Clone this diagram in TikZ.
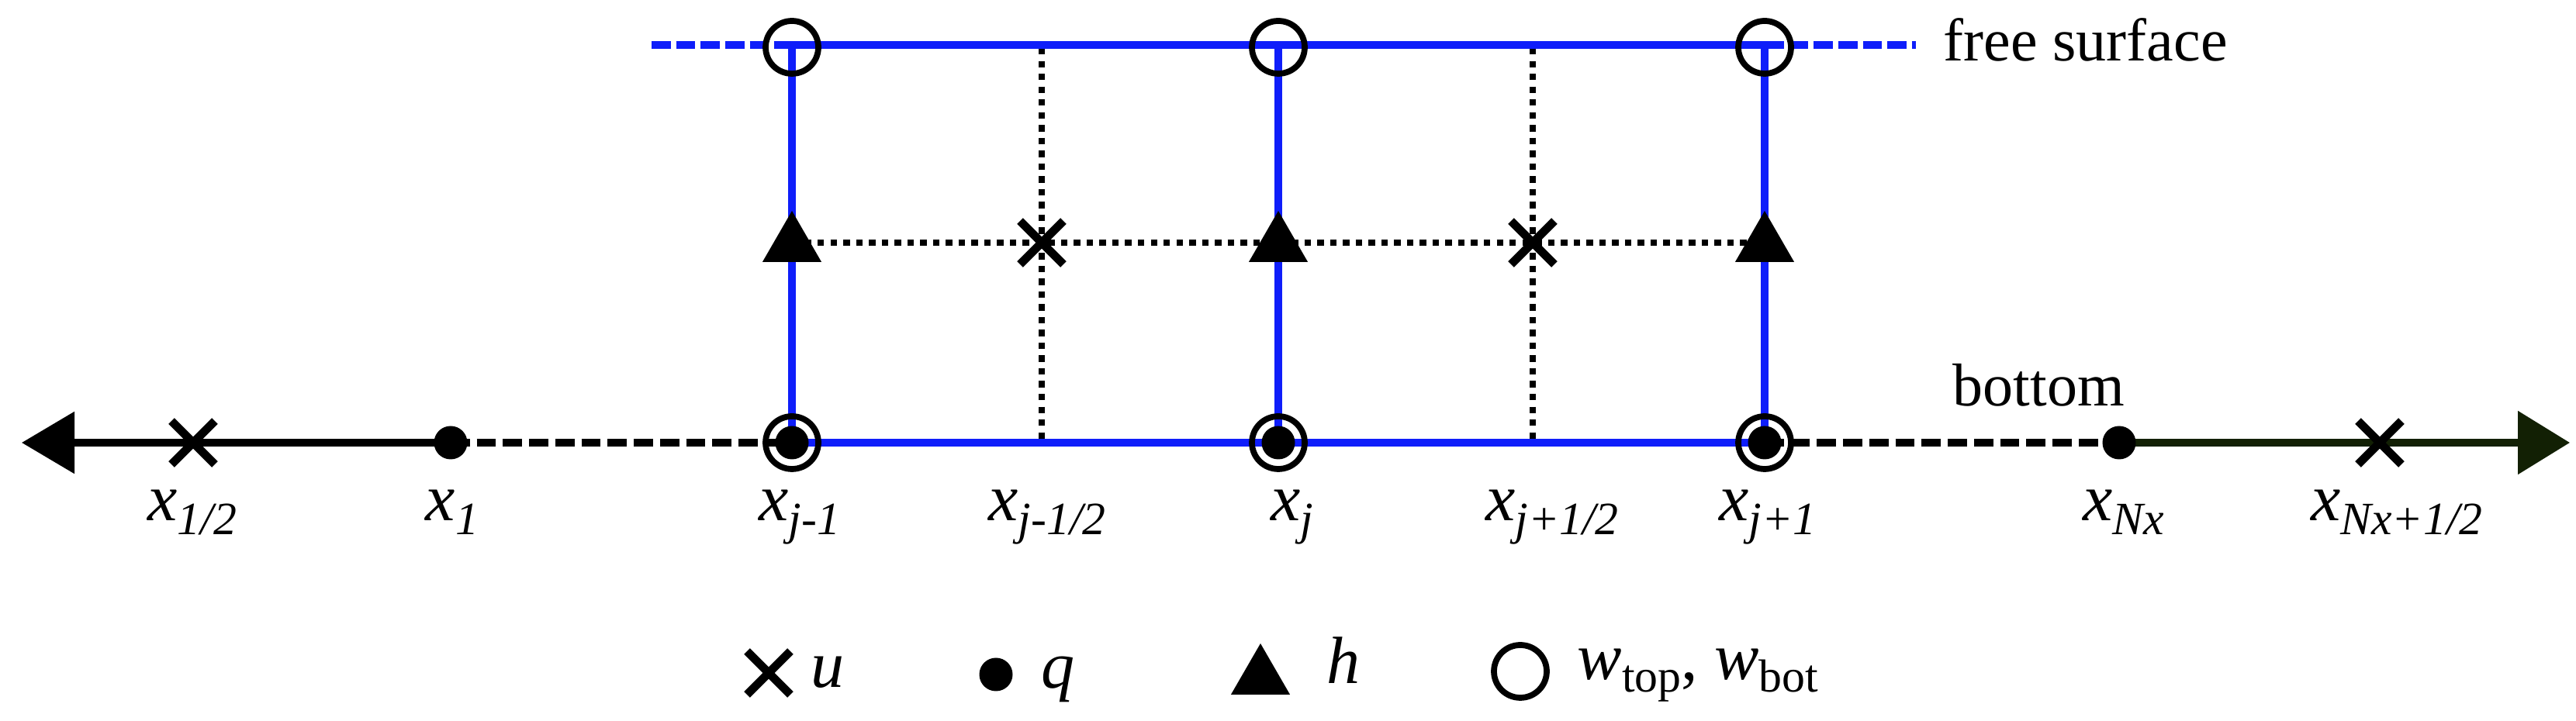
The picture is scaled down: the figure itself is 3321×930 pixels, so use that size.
\documentclass[tikz,border=0pt]{standalone}
\usepackage{fontspec}
\setmainfont{Liberation Serif}[ItalicFont={Liberation Serif Italic}]
\usetikzlibrary{arrows.meta,shapes.geometric,shapes.misc}
\definecolor{gridblue}{RGB}{15,30,250}
\definecolor{axisgreen}{RGB}{18,32,4}
\newcommand{\xlab}[1]{{\fontsize{24.5}{24}\selectfont\itshape x}\raisebox{-5pt}{\fontsize{17}{17}\selectfont\itshape #1}}
\newcommand{\legit}[1]{{\fontsize{24.5}{24}\selectfont\itshape #1}}
\begin{document}
\begin{tikzpicture}[x=0.1mm,y=-0.1mm,
  blueline/.style={draw=gridblue, line width=2.6pt},
  bluedash/.style={draw=gridblue, line width=2.6pt, dash pattern=on 7pt off 2pt},
  axisline/.style={draw=black, line width=2.6pt},
  axisdash/.style={draw=black, line width=2.6pt, dash pattern=on 7pt off 2.6pt},
  griddot/.style={draw=black, line width=2.4pt, dash pattern=on 2.4pt off 2.3pt},
  ringmark/.style={circle, draw=black, line width=2.2pt, minimum size=6.8mm, inner sep=0pt},
  dotmark/.style={circle, fill=black, minimum size=4.3mm, inner sep=0pt},
  crossmark/.style={cross out, draw=black, line width=3.1pt, minimum width=4.5mm, minimum height=4.5mm, inner sep=0pt},
  trimark/.style={regular polygon, regular polygon sides=3, fill=black, minimum size=8.8mm, inner sep=0pt},
  ticklabel/.style={anchor=base, inner sep=0pt},
  wordlabel/.style={anchor=base west, inner sep=0pt, font=\fontsize{22.2}{26}\selectfont},
  legtext/.style={anchor=base west, inner sep=0pt},
]
\fill[white] (0,0) rectangle (3321,930);
\useasboundingbox (0,0) rectangle (3321,930);

% coordinates
\coordinate (TL) at (840,58);
\coordinate (T1) at (1021,58);
\coordinate (TM1) at (1343,62);
\coordinate (T2) at (1648,58);
\coordinate (TM2) at (1976,62);
\coordinate (T3) at (2275,58);
\coordinate (TR) at (2470,58);
\coordinate (H1) at (1021,313);
\coordinate (H3) at (2275,313);
\coordinate (L0) at (28,571);
\coordinate (LX) at (249,571);
\coordinate (X1) at (581,571);
\coordinate (B1) at (1021,571);
\coordinate (BM1) at (1343,571);
\coordinate (B2) at (1648,571);
\coordinate (BM2) at (1976,571);
\coordinate (B3) at (2275,571);
\coordinate (XN) at (2732,571);
\coordinate (XNh) at (3068,571);
\coordinate (R0) at (3313,571);

% grid lines
\draw[griddot] (TM1) -- (BM1);
\draw[griddot] (TM2) -- (BM2);
\draw[griddot] (H1) -- (H3);
\draw[bluedash] (TL) -- (T1);
\draw[bluedash] (T3) -- (TR);
\draw[blueline] (T1) -- (T3);
\draw[blueline] (T1) -- (B1);
\draw[blueline] (T2) -- (B2);
\draw[blueline] (T3) -- (B3);
\draw[blueline] (B1) -- (B3);

% axis
\draw[axisline, {Triangle[length=6.8mm,width=7.8mm]}-] (L0) -- (X1);
\draw[axisdash] (X1) -- (B1);
\draw[axisdash] (B3) -- (XN);
\draw[axisline, draw=axisgreen, fill=axisgreen, -{Triangle[length=6.7mm,width=8mm]}] (XN) -- (R0);

% markers
\node[ringmark] (wt1) at (1021,61) {};
\node[ringmark] (wt2) at (1648,61) {};
\node[ringmark] (wt3) at (2275,61) {};
\node[ringmark] (wb1) at (B1) {};
\node[ringmark] (wb2) at (B2) {};
\node[ringmark] (wb3) at (B3) {};
\node[dotmark] (q1) at (B1) {};
\node[dotmark] (q2) at (B2) {};
\node[dotmark] (q3) at (B3) {};
\node[dotmark] (qx1) at (X1) {};
\node[dotmark] (qxN) at (XN) {};
\node[crossmark] (uL) at (LX) {};
\node[crossmark] (uR) at (XNh) {};
\node[crossmark] (u1) at (1343,313) {};
\node[crossmark] (u2) at (1976,313) {};
\node[trimark] (h1) at (1021,316) {};
\node[trimark] (h2) at (1648,316) {};
\node[trimark] (h3) at (2275,316) {};

% labels
\node[ticklabel] (lab1) at (248,672) {\xlab{1/2}};
\node[ticklabel] (lab2) at (583,672) {\xlab{1}};
\node[ticklabel] (lab3) at (1031,672) {\xlab{j-1}};
\node[ticklabel] (lab4) at (1350,672) {\xlab{j-1/2}};
\node[ticklabel] (lab5) at (1666,672) {\xlab{j}};
\node[ticklabel] (lab6) at (2001,672) {\xlab{j+1/2}};
\node[ticklabel] (lab7) at (2279,672) {\xlab{j+1}};
\node[ticklabel] (lab8) at (2738,672) {\xlab{Nx}};
\node[ticklabel] (lab9) at (3090,672) {\xlab{Nx+1/2}};

\node[wordlabel] (fs) at (2505,79) {free surface};
\node[wordlabel] (bt) at (2517,524) {bottom};

% legend
\node[crossmark] (legu) at (991,868) {};
\node[legtext] (legut) at (1045,887) {\legit{u}};
\node[dotmark] (legq) at (1284,870) {};
\node[legtext] (legqt) at (1342,888) {\legit{q}};
\node[trimark] (legh) at (1625,874) {};
\node[legtext] (leght) at (1710,882) {\legit{h}};
\node[ringmark] (legw) at (1960,866) {};
\node[legtext] (legwt) at (2033,877) {\legit{w}\raisebox{-4.5pt}{\fontsize{17}{17}\selectfont top}{\fontsize{24.5}{24}\selectfont, }\legit{w}\raisebox{-4.5pt}{\fontsize{17}{17}\selectfont bot}};
\end{tikzpicture}
\end{document}
